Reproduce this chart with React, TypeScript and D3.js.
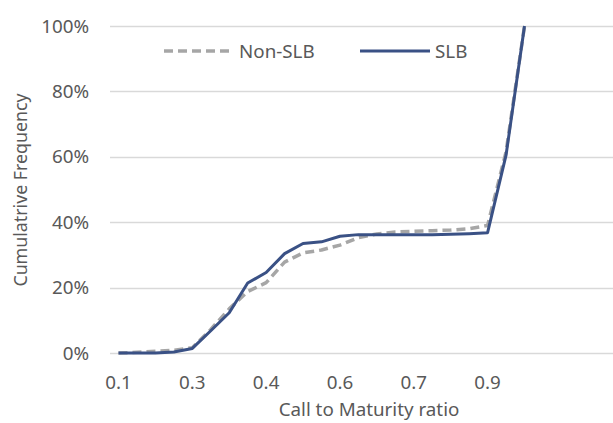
import React from "react";
import * as d3 from "d3";

const categories = [0.1, 0.1375, 0.175, 0.2125, 0.25, 0.2875, 0.325, 0.3625, 0.4, 0.4375, 0.475, 0.5125, 0.55, 0.5875, 0.625, 0.6625, 0.7, 0.7375, 0.775, 0.8125, 0.85, 0.8875, 0.925];
const slb = [0, 0, 0, 0.3, 1.4, 6.8, 12.3, 21.4, 24.6, 30.4, 33.5, 34.0, 35.7, 36.2, 36.2, 36.2, 36.2, 36.2, 36.3, 36.5, 36.8, 60.5, 100];
const nonSlb = [0, 0.2, 0.5, 0.8, 1.6, 7.2, 13.5, 18.8, 21.5, 27.8, 30.6, 31.5, 33.0, 35.3, 36.4, 37.0, 37.2, 37.4, 37.6, 38.0, 39.0, 61.5, 100];
const xTickLabels = ["0.1", "0.3", "0.4", "0.6", "0.7", "0.9"];
const xTickEvery = 4;
const yTicks = [0, 20, 40, 60, 80, 100];

const W = 613;
const H = 423;
const FONT = "'Noto Sans', sans-serif";
const TEXT = "#595959";
const FS = 18.8;

export default function App() {
  const x = d3.scaleLinear().domain([0, categories.length - 1]).range([118.5, 524.5]);
  const y = d3.scaleLinear().domain([0, 100]).range([353, 26]);
  const line = d3
    .line<number>()
    .x((_, i) => x(i))
    .y((d) => y(d));

  return (
    <svg width={W} height={H} style={{ position: "absolute", left: 0, top: 0, background: "#fff" }} fontFamily={FONT}>
      {yTicks.map((t) => (
        <g key={t}>
          <line x1={110} x2={W} y1={Math.round(y(t)) + 0.5} y2={Math.round(y(t)) + 0.5} stroke="#d9d9d9" strokeWidth={1.5} />
          <text x={89} y={y(t)} dy="0.35em" textAnchor="end" fontSize={FS} fill={TEXT}>
            {t}%
          </text>
        </g>
      ))}
      {xTickLabels.map((lab, k) => (
        <text key={lab} x={x(k * xTickEvery)} y={382} dy="0.35em" textAnchor="middle" fontSize={FS} fill={TEXT}>
          {lab}
        </text>
      ))}
      <text x={369} y={409} dy="0.35em" textAnchor="middle" fontSize={FS} fill={TEXT}>
        Call to Maturity ratio
      </text>
      <text transform={`translate(21,190) rotate(-90)`} dy="0.35em" textAnchor="middle" fontSize={17.8} fill={TEXT}>
        Cumulatrive Frequency
      </text>
      <path d={line(nonSlb) || ""} fill="none" stroke="#a6a6a6" strokeWidth={3.5} strokeDasharray="9,5" strokeLinejoin="round" />
      <path d={line(slb) || ""} fill="none" stroke="#3a5185" strokeWidth={3} strokeLinejoin="round" />
      {/* legend */}
      <line x1={164} x2={233} y1={51} y2={51} stroke="#a6a6a6" strokeWidth={3.5} strokeDasharray="9,5" />
      <text x={239} y={51} dy="0.35em" fontSize={FS} fill={TEXT}>
        Non-SLB
      </text>
      <line x1={360} x2={430} y1={51} y2={51} stroke="#3a5185" strokeWidth={3} />
      <text x={435} y={51} dy="0.35em" fontSize={FS} fill={TEXT}>
        SLB
      </text>
    </svg>
  );
}
